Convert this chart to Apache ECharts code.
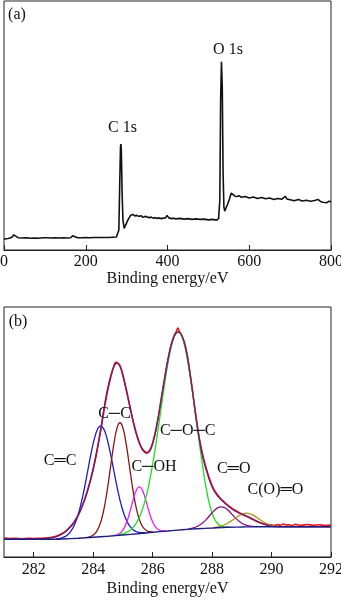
<!DOCTYPE html>
<html>
<head>
<meta charset="utf-8">
<script src="https://cdn.jsdelivr.net/npm/echarts@6/dist/echarts.min.js"></script>
<style>
html,body{margin:0;padding:0;background:#fff;}
#c{width:341px;height:600px;}
</style>
</head>
<body>
<div id="c"></div>
<script>
// ---------- Panel (a): XPS survey spectrum [binding energy eV, intensity a.u.] ----------
const surveyTicks = [0, 200, 400, 600, 800];
const survey = [
  [0,4.3],[5,4.5],[10,4.6],[15,4.8],[20,5.2],[24,6.1],[28,5.3],[35,4.9],[45,4.8],[55,4.9],
  [65,4.7],[75,4.8],[85,4.7],[95,4.9],[105,4.9],[115,4.8],[125,4.9],[135,4.8],[145,4.9],[155,4.8],
  [163,4.9],[168,5.7],[172,4.9],[180,4.9],[190,4.9],[200,5.0],[210,4.9],[220,5.0],[228,5.0],[232,5.4],
  [236,5.0],[245,5.0],[255,5.0],[265,5.1],[275,5.2],[279,5.3],[281,8.0],[283,25.4],[285,41.4],[286,42.5],
  [287,40.2],[289,22.7],[291,12.0],[294,8.7],[298,9.4],[303,12.0],[310,14.0],[315,14.3],[320,13.7],[325,13.9],
  [330,13.5],[335,13.8],[340,13.1],[345,13.5],[350,13.3],[355,13.0],[360,13.2],[365,12.8],[370,13.0],[375,12.7],
  [380,12.9],[385,12.6],[390,12.8],[395,12.9],[399,13.9],[403,12.9],[410,12.6],[415,12.8],[420,12.5],[430,12.7],
  [440,12.4],[450,12.6],[460,12.3],[470,12.5],[480,12.3],[490,12.4],[500,12.1],[510,12.3],[520,12.0],[525,12.6],
  [528,20.1],[530,60.2],[532,75.6],[534,65.5],[536,30.7],[538,17.3],[540,15.6],[543,16.0],[547,18.4],[552,20.7],
  [556,22.9],[560,22.4],[565,21.6],[570,21.5],[575,21.8],[580,21.2],[590,21.5],[600,20.9],[610,21.3],[620,20.7],
  [630,21.1],[640,20.6],[650,20.9],[660,20.3],[670,20.7],[680,20.4],[688,21.6],[692,20.5],[700,20.2],[710,19.8],
  [720,20.3],[730,19.7],[740,20.0],[750,19.6],[760,19.9],[768,20.3],[775,19.4],[780,19.2],[790,19.0],[795,19.6],[800,19.4]
];

// ---------- Panel (b): C 1s high-resolution spectrum ----------
const c1sTicks = [282, 284, 286, 288, 290, 292];
const rawData = [
  [281.0,7.6],[281.2,7.4],[281.4,7.5],[281.6,7.3],[281.8,7.5],[282.0,7.4],[282.2,7.5],[282.4,7.6],[282.6,7.9],[282.8,8.5],
  [283.0,9.7],[283.1,10.6],[283.2,11.8],[283.3,13.0],[283.4,14.8],[283.5,16.9],[283.6,19.6],[283.7,22.6],[283.8,26.3],[283.9,30.4],
  [284.0,35.3],[284.1,41.0],[284.2,47.4],[284.3,54.0],[284.4,61.0],[284.5,67.3],[284.6,72.4],[284.7,76.5],[284.75,77.9],[284.8,77.8],
  [284.9,76.6],[285.0,72.8],[285.1,67.7],[285.2,62.3],[285.3,56.7],[285.4,51.7],[285.5,47.6],[285.6,44.4],[285.7,42.6],[285.8,41.8],
  [285.9,42.6],[286.0,45.6],[286.1,50.4],[286.2,56.8],[286.3,64.0],[286.4,71.3],[286.5,78.1],[286.6,83.8],[286.7,87.9],[286.8,90.4],
  [286.85,91.6],[286.9,90.2],[287.0,88.0],[287.1,84.3],[287.2,78.0],[287.3,70.0],[287.4,61.2],[287.5,52.8],[287.6,45.6],[287.7,40.0],
  [287.8,35.6],[287.9,31.8],[288.0,28.6],[288.1,26.2],[288.2,24.6],[288.3,23.2],[288.4,22.1],[288.5,21.0],[288.6,20.1],[288.7,19.2],
  [288.8,18.5],[288.9,17.8],[289.0,17.2],[289.1,16.6],[289.2,16.1],[289.3,15.5],[289.4,14.9],[289.5,14.3],[289.6,13.8],[289.7,13.4],
  [289.8,13.1],[289.9,12.8],[290.0,12.9],[290.1,12.6],[290.2,13.0],[290.3,12.7],[290.4,13.2],[290.5,12.8],[290.6,12.9],[290.7,12.6],
  [290.8,13.1],[290.9,12.8],[291.0,12.7],[291.2,13.0],[291.4,12.7],[291.6,12.9],[291.8,12.6],[292.0,12.8]
];
const fitEnvelope = [
  [281.0,7.2],[281.5,7.2],[282.0,7.25],[282.4,7.4],[282.6,7.7],[282.8,8.3],[283.0,9.5],[283.2,11.6],[283.4,14.6],[283.6,19.3],
  [283.8,26.0],[284.0,35.0],[284.2,47.0],[284.4,62.0],[284.55,70.5],[284.7,76.3],[284.8,77.6],[284.9,76.3],[285.0,72.5],[285.1,67.5],
  [285.2,62.0],[285.3,56.5],[285.4,51.5],[285.5,47.3],[285.6,44.2],[285.7,42.3],[285.8,41.5],[285.9,42.3],[286.0,45.3],[286.1,50.2],
  [286.2,56.5],[286.3,63.8],[286.4,71.0],[286.5,77.8],[286.6,83.5],[286.7,87.5],[286.8,89.7],[286.88,90.0],[286.95,89.3],[287.05,86.5],
  [287.15,81.5],[287.25,74.0],[287.35,65.5],[287.45,56.5],[287.55,48.5],[287.65,42.0],[287.75,37.0],[287.85,33.0],[287.95,29.5],[288.05,26.8],
  [288.15,25.0],[288.25,23.6],[288.35,22.4],[288.5,20.8],[288.7,19.0],[288.9,17.6],[289.1,16.6],[289.3,15.5],[289.5,14.3],[289.7,13.3],
  [289.9,12.6],[290.1,12.2],[290.5,12.1],[291.0,12.1],[292.0,12.1]
];
const background = [
  [281.0,7.1],[282.0,7.1],[282.8,7.1],[283.0,7.2],[283.5,7.5],[284.0,7.9],[284.5,8.3],[285.0,8.8],[285.5,9.3],[286.0,9.9],
  [286.5,10.4],[287.0,10.9],[287.5,11.3],[288.0,11.6],[288.5,11.9],[289.0,12.0],[289.5,12.1],[290.0,12.1],[292.0,12.1]
];
const peakCC_double = [ // C=C
  [282.75,7.2],[282.85,7.34],[282.95,7.63],[283.05,8.13],[283.15,8.97],[283.25,10.32],[283.35,12.38],[283.45,15.32],[283.55,19.34],[283.65,24.38],
  [283.75,30.27],[283.85,36.56],[283.95,42.63],[284.05,47.72],[284.15,51.17],[284.25,52.45],[284.35,51.33],[284.45,48.04],[284.55,43.12],[284.65,37.23],
  [284.75,31.12],[284.85,25.41],[284.95,20.55],[285.05,16.7],[285.15,13.92],[285.25,12.02],[285.35,10.83],[285.45,10.15],[285.55,9.82],[285.65,9.7],[285.75,9.7]
];
const peakCC_single = [ // C-C
  [283.8,7.86],[283.9,8.16],[284.0,8.76],[284.1,9.96],[284.2,12.17],[284.3,15.9],[284.4,21.5],[284.5,28.91],[284.6,37.4],[284.7,45.52],
  [284.8,51.46],[284.9,53.7],[285.0,51.66],[285.1,45.92],[285.2,38.0],[285.3,29.71],[285.4,22.48],[285.5,17.06],[285.6,13.53],[285.7,11.52],
  [285.8,10.52],[285.9,10.12],[286.0,10.02]
];
const peakCOH = [ // C-OH
  [284.65,8.5],[284.75,8.71],[284.85,9.15],[284.95,10.05],[285.05,11.79],[285.15,14.68],[285.25,18.66],[285.35,23.06],[285.45,26.62],[285.55,28.06],
  [285.65,26.85],[285.75,23.51],[285.85,19.33],[285.95,15.57],[286.05,12.89],[286.15,11.35],[286.25,10.65],[286.35,10.41],[286.45,10.4]
];
const peakCOC = [ // C-O-C
  [284.85,8.86],[284.95,9.12],[285.05,9.49],[285.15,10.03],[285.25,10.82],[285.35,11.95],[285.45,13.56],[285.55,15.79],[285.65,18.81],[285.75,22.72],
  [285.85,27.66],[285.95,33.63],[286.05,40.58],[286.15,48.33],[286.25,56.59],[286.35,64.94],[286.45,72.86],[286.55,79.82],[286.65,85.28],[286.75,88.78],
  [286.85,90.05],[286.95,88.98],[287.05,85.67],[287.15,80.2],[287.25,73.2],[287.35,65.3],[287.45,56.5],[287.55,47.5],[287.65,39.0],[287.75,31.0],
  [287.85,24.5],[287.95,19.5],[288.05,16.0],[288.15,13.9],[288.25,12.8],[288.35,12.25],[288.45,12.0],[288.55,11.95]
];
const peakCO = [ // C=O
  [287.2,11.19],[287.3,11.4],[287.4,11.72],[287.5,12.2],[287.6,12.88],[287.7,13.81],[287.8,14.97],[287.9,16.31],[288.0,17.68],[288.1,18.89],
  [288.2,19.74],[288.3,20.08],[288.4,19.86],[288.5,19.13],[288.6,18.0],[288.7,16.71],[288.8,15.45],[288.9,14.37],[289.0,13.52],[289.1,12.92],
  [289.2,12.54],[289.3,12.32],[289.4,12.21]
];
const peakCOO = [ // C(O)=O
  [288.05,11.76],[288.15,11.93],[288.25,12.19],[288.35,12.55],[288.45,13.06],[288.55,13.7],[288.65,14.45],[288.75,15.29],[288.85,16.12],[288.95,16.84],
  [289.05,17.34],[289.15,17.53],[289.25,17.38],[289.35,16.92],[289.45,16.24],[289.55,15.45],[289.65,14.62],[289.75,13.89],[289.85,13.29],[289.95,12.84],
  [290.05,12.54],[290.15,12.34],[290.25,12.23]
];

const SERIF = '"Liberation Serif","Times New Roman",serif';
const chart = echarts.init(document.getElementById('c'), null, {renderer: 'canvas'});

function xAxisCfg(idx, min, max, ticks, gap) {
  return {
    gridIndex: idx, type: 'value', min: min, max: max,
    name: 'Binding energy/eV', nameLocation: 'middle', nameGap: gap,
    nameTextStyle: {fontFamily: SERIF, fontSize: 16, color: '#111'},
    axisLine: {show: true, lineStyle: {color: '#222', width: 1}},
    axisTick: {show: true, inside: true, length: 5, customValues: ticks, lineStyle: {color: '#222'}},
    axisLabel: {show: true, customValues: ticks, margin: idx === 0 ? 4 : 5, fontFamily: SERIF, fontSize: 16, color: '#111', showMinLabel: true, showMaxLabel: true, hideOverlap: false},
    splitLine: {show: false}
  };
}
function yAxisCfg(idx, min, max) {
  return {gridIndex: idx, type: 'value', min: min, max: max, show: false, splitLine: {show: false}};
}
function line(data, color, width, xi, smooth, z) {
  return {
    type: 'line', xAxisIndex: xi, yAxisIndex: xi, data: data, showSymbol: false, symbol: 'none',
    smooth: smooth, lineStyle: {color: color, width: width}, z: z, silent: true
  };
}

function txt(text, x, y, size) {
  return {
    type: 'text', x: x, y: y, silent: true, z: 100,
    style: {text: text, fill: '#111', font: (size || 16) + 'px ' + SERIF,
      align: 'center', verticalAlign: 'middle', textAlign: 'center', textVerticalAlign: 'middle'}
  };
}

chart.setOption({
  animation: false,
  backgroundColor: '#fff',
  grid: [
    {left: 4, right: 10, top: 1, height: 249, show: true, borderColor: '#222', borderWidth: 1, backgroundColor: 'transparent', containLabel: false, outerBoundsMode: 'none'},
    {left: 4, right: 10, top: 307, height: 250, show: true, borderColor: '#222', borderWidth: 1, backgroundColor: 'transparent', containLabel: false, outerBoundsMode: 'none'}
  ],
  xAxis: [xAxisCfg(0, 0, 800, surveyTicks, 21), xAxisCfg(1, 281, 292, c1sTicks, 24)],
  yAxis: [yAxisCfg(0, 0, 100), yAxisCfg(1, 0, 100)],
  series: [
    line(survey, '#111', 1.6, 0, false, 2),
    line(rawData, '#e5141e', 1.6, 1, 0.3, 2),
    line(peakCC_double, '#1a1ad8', 1.3, 1, true, 3),
    line(peakCC_single, '#8a1414', 1.3, 1, true, 3),
    line(peakCOH, '#f01cf0', 1.3, 1, true, 3),
    line(peakCOC, '#1ee01e', 1.3, 1, true, 3),
    line(peakCO, '#86108a', 1.3, 1, true, 3),
    line(peakCOO, '#a8961a', 1.3, 1, true, 3),
    line(fitEnvelope, '#7a1c6c', 1.4, 1, true, 4),
    line(background, '#1e1e80', 1.3, 1, 0.3, 5)
  ],
  graphic: [
    txt('(a)', 17, 15),
    txt('C 1s', 122.5, 127.5),
    txt('O 1s', 228, 50),
    txt('(b)', 18, 322),
    txt('C\u2550C', 60, 461),
    txt('C\u2500C', 114.5, 413.5),
    txt('C\u2500OH', 154, 467),
    txt('C\u2500O\u2500C', 187.7, 431),
    txt('C\u2550O', 233.7, 469),
    txt('C(O)\u2550O', 275.5, 490)
  ]
});
</script>
</body>
</html>
